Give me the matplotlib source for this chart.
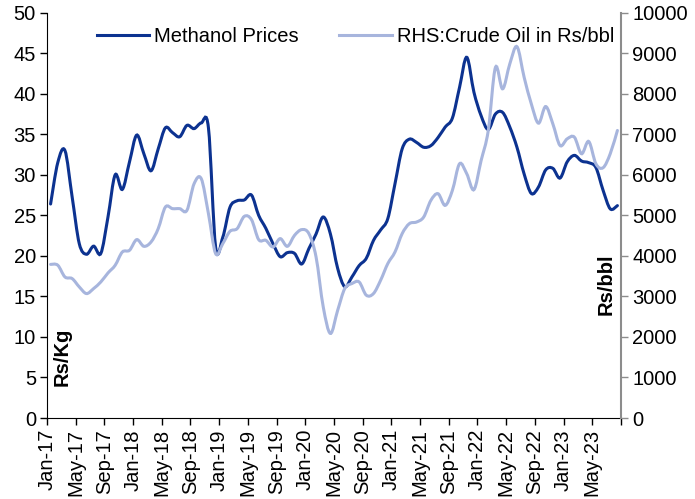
"""Methanol prices vs crude oil (Rs/bbl), monthly Jan-17 to Aug-23."""

import matplotlib
matplotlib.use("Agg")
import matplotlib.pyplot as plt
import numpy as np
from matplotlib.lines import Line2D
from matplotlib.patches import PathPatch
from matplotlib.path import Path

plt.rcParams['font.family'] = ['Liberation Sans', 'DejaVu Sans']

# monthly series, Jan-17 .. Aug-23
methanol = [
    26.4, 31.5, 33.0, 27.3, 21.5, 20.2, 21.2, 20.3, 24.8, 30.0, 28.2, 31.6,   # 2017
    34.9, 32.6, 30.5, 33.2, 35.8, 35.2, 34.7, 36.1, 35.7, 36.4, 35.8, 21.1,   # 2018
    22.3, 26.0, 26.8, 26.9, 27.5, 25.0, 23.4, 21.5, 19.9, 20.4, 20.3, 19.0,   # 2019
    20.9, 22.7, 24.8, 22.7, 18.5, 16.2, 17.4, 18.8, 19.7, 21.9, 23.2, 24.6,   # 2020
    28.9, 33.2, 34.4, 34.0, 33.4, 33.6, 34.6, 35.9, 37.0, 40.8, 44.5, 40.2,   # 2021
    37.3, 35.6, 37.5, 37.7, 35.9, 33.4, 30.1, 27.7, 28.5, 30.6, 30.8, 29.6,   # 2022
    31.6, 32.4, 31.7, 31.5, 30.9, 28.1, 25.8, 26.2,                           # 2023
]
crude_oil = [
    3790, 3770, 3480, 3440, 3234, 3070, 3194, 3357, 3579, 3768, 4096, 4138,
    4401, 4236, 4343, 4672, 5205, 5165, 5165, 5123, 5780, 5904, 5042, 4057,
    4303, 4606, 4672, 4975, 4894, 4401, 4384, 4220, 4426, 4236, 4507, 4648,
    4549, 3973, 2741, 2086, 2650, 3194, 3317, 3357, 3030, 3070, 3399, 3810,
    4096, 4549, 4795, 4835, 4958, 5369, 5534, 5246, 5616, 6273, 6027, 5633,
    6350, 7094, 8650, 8121, 8736, 9162, 8407, 7751, 7274, 7685, 7258, 6724,
    6888, 6929, 6520, 6823, 6273, 6175, 6520, 7094,
]
tick_labels = ['Jan-17', 'May-17', 'Sep-17', 'Jan-18', 'May-18', 'Sep-18',
               'Jan-19', 'May-19', 'Sep-19', 'Jan-20', 'May-20', 'Sep-20',
               'Jan-21', 'May-21', 'Sep-21', 'Jan-22', 'May-22', 'Sep-22',
               'Jan-23', 'May-23']

METHANOL_COLOR = '#0C3290'
CRUDE_COLOR = '#A7B5DD'
AXIS_GREY = '#8C8C8C'


def smooth_path(x, y):
    """Catmull-Rom style cubic Bezier path through the points (like Excel smoothing)."""
    pts = np.column_stack([x, y]).astype(float)
    padded = np.vstack([pts[0], pts, pts[-1]])
    verts = [pts[0]]
    codes = [Path.MOVETO]
    for i in range(len(pts) - 1):
        p0, p1, p2, p3 = padded[i], padded[i + 1], padded[i + 2], padded[i + 3]
        verts += [p1 + (p2 - p0) / 6.0, p2 - (p3 - p1) / 6.0, p2]
        codes += [Path.CURVE4] * 3
    return Path(verts, codes)


n = len(methanol)
x = np.arange(n) + 0.5  # categories sit between tick marks

fig = plt.figure(figsize=(6.95, 4.99), dpi=100)
ax = fig.add_axes([47 / 695, 1 - 418 / 499, (621 - 47) / 695, (418 - 12.7) / 499])
ax2 = ax.twinx()

ax.add_patch(PathPatch(smooth_path(x, methanol), fill=False,
                       edgecolor=METHANOL_COLOR, lw=2.2, capstyle='round'))
ax2.add_patch(PathPatch(smooth_path(x, crude_oil), fill=False,
                        edgecolor=CRUDE_COLOR, lw=2.2, capstyle='round'))

ax.set_xlim(0, n)
ax.set_ylim(0, 50)
ax2.set_ylim(0, 10000)
ax.set_yticks(np.arange(0, 51, 5))
ax2.set_yticks(np.arange(0, 10001, 1000))
ax.set_xticks(np.arange(0, n + 1, 4))
ax.set_xticklabels(tick_labels + [''], rotation=90)

fs = 14.5
ax.tick_params(axis='both', direction='out', length=5, width=1, labelsize=fs, pad=3)
ax2.tick_params(axis='y', direction='out', length=5, width=1, labelsize=fs,
                color=AXIS_GREY, pad=3)

for a in (ax, ax2):
    a.spines['top'].set_visible(False)
ax.spines['right'].set_visible(False)
ax2.spines['left'].set_visible(False)
ax2.spines['bottom'].set_visible(False)
ax2.spines['right'].set_color(AXIS_GREY)
ax2.spines['right'].set_linewidth(1.5)

ax.text(0.026, 0.15, 'Rs/Kg', transform=ax.transAxes, rotation=90,
        fontsize=fs, fontweight='bold', ha='center', va='center')
ax2.text(0.974, 0.33, 'Rs/bbl', transform=ax2.transAxes, rotation=90,
         fontsize=fs, fontweight='bold', ha='center', va='center')

handles = [Line2D([], [], color=METHANOL_COLOR, lw=2.2),
           Line2D([], [], color=CRUDE_COLOR, lw=2.2)]
fig.legend(handles, ['Methanol Prices', 'RHS:Crude Oil in Rs/bbl'],
           loc='center', bbox_to_anchor=(0.5 + 8 / 695, 1 - 37 / 499), ncol=2,
           frameon=False, fontsize=fs, handlelength=2.6, columnspacing=2.0,
           handletextpad=0.25)

fig.savefig('out.png', dpi=100)
plt.close(fig)
